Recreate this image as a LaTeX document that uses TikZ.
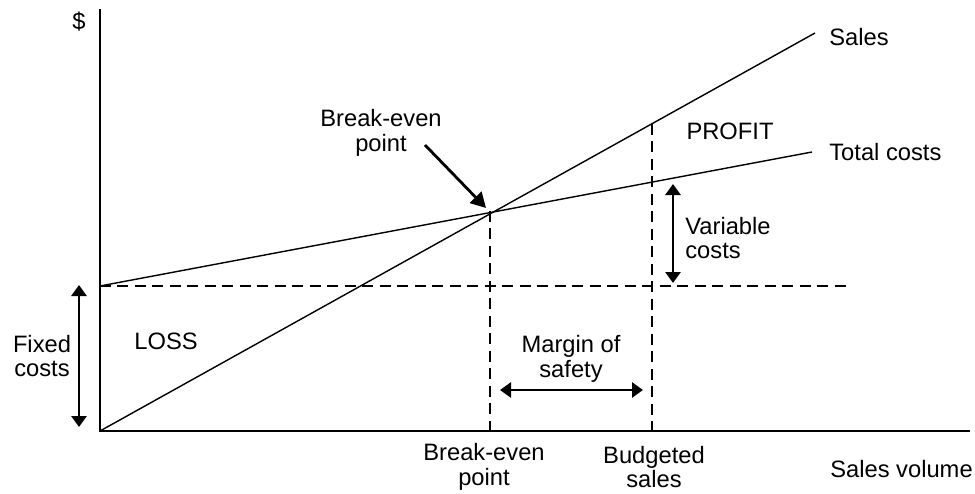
\documentclass[tikz,border=0pt]{standalone}
\usepackage{fontspec}
\setmainfont{Liberation Sans}
\usetikzlibrary{arrows.meta,positioning}

\tikzset{
  lbl/.style={inner sep=0pt,align=center,font=\fontsize{13.5}{14.2}\selectfont},
  tip/.style={Triangle[length=0.22cm,width=0.3cm]},
  dimarrow/.style={{Triangle[length=0.22cm,width=0.3cm]}-{Triangle[length=0.22cm,width=0.3cm]},line width=1.6pt},
  guide/.style={dash pattern=on 0.22cm off 0.13cm,line width=0.8pt}
}

\begin{document}
\begin{tikzpicture}[x=0.02cm,y=-0.02cm]
\useasboundingbox (0,0) rectangle (975,494);

\coordinate (o) at (100,431);
\coordinate (ytop) at (100,9);
\coordinate (xend) at (970,431);
\coordinate (f) at (100,286);
\coordinate (fend) at (850,286);
\coordinate (s) at (815,33);
\coordinate (t) at (812,152);
\coordinate (be) at (490,211);
\coordinate (beb) at (490,431);
\coordinate (bs) at (652,124);
\coordinate (bsb) at (652,431);

\node[lbl] (dollar) at (79,22) {\$};
\node[lbl,anchor=west] (sales) at (829,37) {Sales};
\node[lbl,anchor=west] (total) at (829,152) {Total costs};
\node[lbl] (profit) at (730,131) {PROFIT};
\node[lbl] (loss) at (166,341) {LOSS};
\node[lbl] (fixed) at (42,356) {Fixed\\costs};
\node[lbl,align=left,anchor=west] (var) at (685,238) {Variable\\costs};
\node[lbl] (margin) at (571,359) {Margin of\\safety};
\node[lbl] (bel) at (381,133) {Break-even\\point};
\node[lbl] (bex) at (484,467) {Break-even\\point};
\node[lbl] (bud) at (654,467) {Budgeted\\sales};
\node[lbl,anchor=west] (vol) at (830,469) {Sales volume};

\coordinate (fa1) at (79,285);
\coordinate (fa2) at (79,427);
\coordinate (va1) at (673,184);
\coordinate (va2) at (673,283);
\coordinate (ma1) at (500,390);
\coordinate (ma2) at (643,390);
\coordinate (ba1) at (425,145);
\coordinate (ba2) at (486,208);

\draw[line width=1.1pt] (ytop) -- (o) -- (xend);
\draw[line width=0.8pt] (o) -- (s);
\draw[line width=0.8pt] (f) -- (t);
\draw[guide] (f) -- (fend);
\draw[guide] (be) -- (beb);
\draw[guide] (bs) -- (bsb);
\draw[dimarrow] (fa1) -- (fa2);
\draw[dimarrow] (va1) -- (va2);
\draw[dimarrow] (ma1) -- (ma2);
\draw[-{Triangle[length=0.3cm,width=0.32cm]},line width=1.6pt] (ba1) -- (ba2);

\end{tikzpicture}
\end{document}
